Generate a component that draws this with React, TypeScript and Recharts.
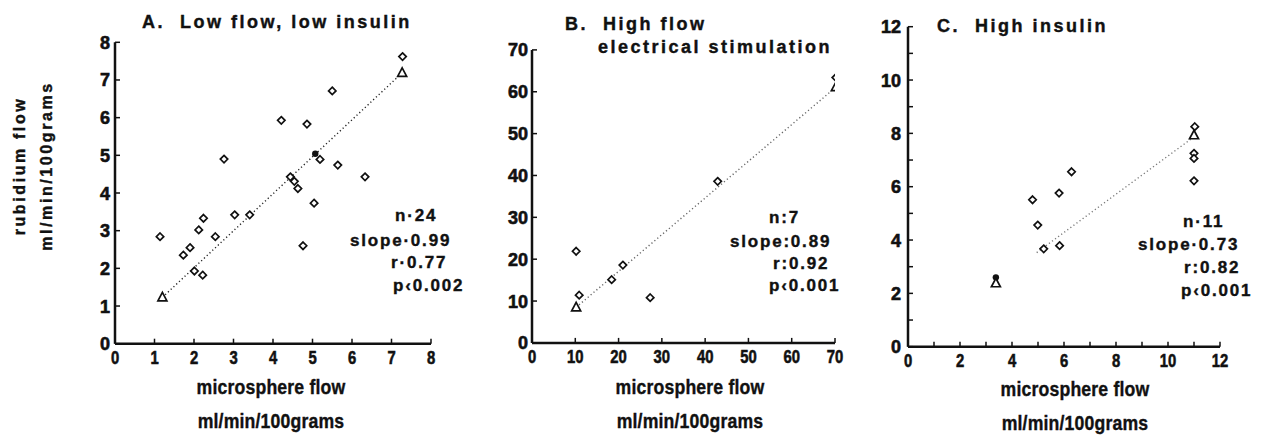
import React from 'react';
import { ScatterChart, Scatter, XAxis, YAxis } from 'recharts';

// Panel A: low flow, low insulin
const aPoints = [
  { x: 1.14, y: 2.84 }, { x: 1.73, y: 2.35 }, { x: 1.9, y: 2.55 }, { x: 2.01, y: 1.93 },
  { x: 2.12, y: 3.02 }, { x: 2.22, y: 1.82 }, { x: 2.24, y: 3.33 }, { x: 2.54, y: 2.84 },
  { x: 2.76, y: 4.9 }, { x: 3.03, y: 3.42 }, { x: 3.41, y: 3.42 }, { x: 4.21, y: 5.93 },
  { x: 4.44, y: 4.43 }, { x: 4.54, y: 4.31 }, { x: 4.63, y: 4.12 }, { x: 4.76, y: 2.6 },
  { x: 4.86, y: 5.83 }, { x: 5.04, y: 3.73 }, { x: 5.19, y: 4.89 }, { x: 5.5, y: 6.71 },
  { x: 5.64, y: 4.74 }, { x: 6.33, y: 4.43 }, { x: 7.28, y: 7.62 },
];
const aFilled = [{ x: 5.07, y: 5.04 }];
const aTriangles = [{ x: 1.2, y: 1.23 }, { x: 7.27, y: 7.19 }];
const aFit = [{ x: 1.2, y: 1.23 }, { x: 7.27, y: 7.19 }];
const aTicks = [0, 1, 2, 3, 4, 5, 6, 7, 8];
const aStats = ['n·24', 'slope·0.99', 'r·0.77', 'p‹0.002'];

// Panel B: high flow, electrical stimulation
const bPoints = [
  { x: 10.2, y: 21.9 }, { x: 10.9, y: 11.4 }, { x: 18.4, y: 15.1 }, { x: 21.0, y: 18.6 },
  { x: 27.3, y: 10.8 }, { x: 42.9, y: 38.6 }, { x: 70.2, y: 63.4 },
];
const bTriangles = [{ x: 10.2, y: 8.5 }, { x: 70.2, y: 61.1 }];
const bFit = [{ x: 10.2, y: 8.5 }, { x: 70.2, y: 61.1 }];
const bTicks = [0, 10, 20, 30, 40, 50, 60, 70];
const bStats = ['n:7', 'slope:0.89', 'r:0.92', 'p‹0.001'];

// Panel C: high insulin
const cPoints = [
  { x: 4.79, y: 5.51 }, { x: 4.99, y: 4.56 }, { x: 5.22, y: 3.67 }, { x: 5.81, y: 5.76 },
  { x: 5.83, y: 3.79 }, { x: 6.29, y: 6.56 }, { x: 11.03, y: 8.25 }, { x: 11.0, y: 7.25 },
  { x: 11.0, y: 7.06 }, { x: 11.0, y: 6.22 },
];
const cFilled = [{ x: 3.38, y: 2.6 }];
const cTriangles = [{ x: 3.38, y: 2.38 }, { x: 11.0, y: 7.93 }];
const cFit = [{ x: 4.95, y: 3.53 }, { x: 11.0, y: 7.87 }];
const cTicks = [0, 1, 2, 3, 4, 5, 6, 7, 8, 9, 10, 11, 12];
const cStats = ['n·11', 'slope·0.73', 'r:0.82', 'p‹0.001'];

const W = 1264;
const H = 435;
const INK = '#111';
const BOLD = "'Liberation Sans', Arial, sans-serif";

const Diamond = (p: any) => {
  const { cx, cy } = p;
  const r = 3.7;
  return (
    <path
      d={`M${cx},${cy - r}L${cx + r},${cy}L${cx},${cy + r}L${cx - r},${cy}Z`}
      fill="#fff"
      stroke={INK}
      strokeWidth={1.7}
    />
  );
};

const Dot = (p: any) => <circle cx={p.cx} cy={p.cy} r={3.2} fill={INK} />;

const Triangle = (p: any) => {
  const { cx, cy } = p;
  return (
    <path
      d={`M${cx},${cy - 5}L${cx + 4.5},${cy + 3.5}L${cx - 4.5},${cy + 3.5}Z`}
      fill="#fff"
      stroke={INK}
      strokeWidth={1.7}
    />
  );
};

const Nothing = () => <g />;

// narrow, tall digits under the x axis
const makeXTick = (show: (v: number) => boolean) => (p: any) => {
  const v = p.payload.value;
  if (!show(v)) return <g />;
  return (
    <g transform={`translate(${p.x},${p.y + 14}) scale(0.78,1)`}>
      <text x={0} y={0} textAnchor="middle" fill={INK} stroke={INK} strokeWidth={0.6}
        fontSize={19} fontWeight={700} fontFamily={BOLD}>
        {v}
      </text>
    </g>
  );
};

const makeYTick = (show: (v: number) => boolean) => (p: any) => {
  const v = p.payload.value;
  if (!show(v)) return <g />;
  return (
    <text x={p.x} y={p.y + 6.5} textAnchor="end" fill={INK} stroke={INK} strokeWidth={0.6}
      fontSize={18} fontWeight={700} fontFamily={BOLD}>
      {v}
    </text>
  );
};

function Panel(props: any) {
  const { plot, domainMax, ticks, showTick, yMargin, points, filled, triangles, fit, fitColor } = props;
  const [left, right, top, bottom] = plot;
  return (
    <ScatterChart
      width={W}
      height={H}
      margin={{ left: left - 40, right: W - right, top, bottom: H - bottom - 30 }}
      style={{ position: 'absolute', left: 0, top: 0 }}
    >
      <XAxis
        type="number"
        dataKey="x"
        domain={[0, domainMax]}
        ticks={ticks}
        interval={0}
        height={30}
        tickSize={-5}
        tickMargin={11}
        axisLine={{ stroke: INK, strokeWidth: 2.5 }}
        tickLine={{ stroke: INK, strokeWidth: 1.5 }}
        tick={makeXTick(showTick)}
        allowDataOverflow
      />
      <YAxis
        type="number"
        dataKey="y"
        domain={[0, domainMax]}
        ticks={ticks}
        interval={0}
        width={40}
        tickSize={-5}
        tickMargin={yMargin}
        axisLine={{ stroke: INK, strokeWidth: 2.5 }}
        tickLine={{ stroke: INK, strokeWidth: 1.5 }}
        tick={makeYTick(showTick)}
        allowDataOverflow
      />
      <Scatter
        data={fit}
        shape={Nothing}
        line={{ stroke: fitColor, strokeWidth: 1.4, strokeDasharray: '1.2 2.6' }}
        isAnimationActive={false}
      />
      <Scatter data={points} shape={Diamond} isAnimationActive={false} />
      {filled && <Scatter data={filled} shape={Dot} isAnimationActive={false} />}
      <Scatter data={triangles} shape={Triangle} isAnimationActive={false} />
    </ScatterChart>
  );
}

const Txt = ({ x, y, size, children, anchor, spacing, narrow }: any) => (
  <div
    style={{
      position: 'absolute',
      left: anchor === 'middle' ? x - 200 : x,
      width: anchor === 'middle' ? 400 : undefined,
      top: y,
      textAlign: anchor === 'middle' ? 'center' : 'left',
      fontFamily: BOLD,
      fontWeight: 700,
      fontSize: size,
      letterSpacing: spacing ?? 1,
      lineHeight: 1,
      color: INK,
      whiteSpace: 'nowrap',
      WebkitTextStroke: '0.4px #111',
      transform: narrow ? `scaleX(${narrow})` : undefined,
      transformOrigin: anchor === 'middle' ? 'center' : 'left',
    }}
  >
    {children}
  </div>
);

// stats block: left edge and vertical centre of each line
const Stats = ({ lines, lx, cy }: any) => (
  <>
    {lines.map((s: string, i: number) => (
      <Txt key={s} x={lx[i]} y={cy[i] - 8.5} size={17} spacing={1.8}>
        {s}
      </Txt>
    ))}
  </>
);

const VLabel = ({ x, y, children }: any) => (
  <div
    style={{
      position: 'absolute', left: x, top: y, transform: 'translate(-50%, -50%) rotate(-90deg)',
      fontFamily: BOLD, fontWeight: 700, fontSize: 16, letterSpacing: 2.6, whiteSpace: 'nowrap', color: INK,
      WebkitTextStroke: '0.4px #111', lineHeight: 1,
    }}
  >
    {children}
  </div>
);

export default function App() {
  const all = () => true;
  const even = (v: number) => v % 2 === 0;
  return (
    <div style={{ position: 'absolute', left: 0, top: 0, width: W, height: H, background: '#fff', overflow: 'hidden' }}>
      <Panel
        plot={[115, 431, 42.3, 343.7]}
        domainMax={8}
        ticks={aTicks}
        showTick={all}
        yMargin={10}
        points={aPoints}
        filled={aFilled}
        triangles={aTriangles}
        fit={aFit}
        fitColor="#222"
      />
      <Panel
        plot={[532, 835, 49.9, 342.9]}
        domainMax={70}
        ticks={bTicks}
        showTick={all}
        yMargin={9}
        points={bPoints}
        triangles={bTriangles}
        fit={bFit}
        fitColor="#666"
      />
      <Panel
        plot={[908, 1220, 26.7, 346.7]}
        domainMax={12}
        ticks={cTicks}
        showTick={even}
        yMargin={12}
        points={cPoints}
        filled={cFilled}
        triangles={cTriangles}
        fit={cFit}
        fitColor="#777"
      />

      <Txt x={142} y={13} size={18} spacing={2.5}>A.&nbsp;&nbsp;Low flow, low insulin</Txt>
      <Txt x={565} y={15} size={18} spacing={2.5}>B.&nbsp;&nbsp;High flow</Txt>
      <Txt x={598} y={38} size={18} spacing={2.5}>electrical stimulation</Txt>
      <Txt x={937} y={17} size={18} spacing={2.5}>C.&nbsp;&nbsp;High insulin</Txt>

      <Stats lines={aStats} lx={[395, 350, 391, 393]} cy={[215, 240, 262, 285]} />
      <Stats lines={bStats} lx={[769, 730, 773, 769]} cy={[217, 241, 263, 285]} />
      <Stats lines={cStats} lx={[1183, 1138, 1184, 1181]} cy={[221, 244, 267, 290]} />

      <VLabel x={20} y={166}>rubidium flow</VLabel>
      <VLabel x={47} y={166}>ml/min/100grams</VLabel>

      <Txt x={271} y={376} size={21} anchor="middle" spacing={0.2} narrow={0.84}>microsphere flow</Txt>
      <Txt x={271} y={410} size={21} anchor="middle" spacing={0.2} narrow={0.84}>ml/min/100grams</Txt>
      <Txt x={690} y={376} size={21} anchor="middle" spacing={0.2} narrow={0.84}>microsphere flow</Txt>
      <Txt x={690} y={410} size={21} anchor="middle" spacing={0.2} narrow={0.84}>ml/min/100grams</Txt>
      <Txt x={1075} y={378} size={21} anchor="middle" spacing={0.2} narrow={0.84}>microsphere flow</Txt>
      <Txt x={1075} y={412} size={21} anchor="middle" spacing={0.2} narrow={0.84}>ml/min/100grams</Txt>
    </div>
  );
}
